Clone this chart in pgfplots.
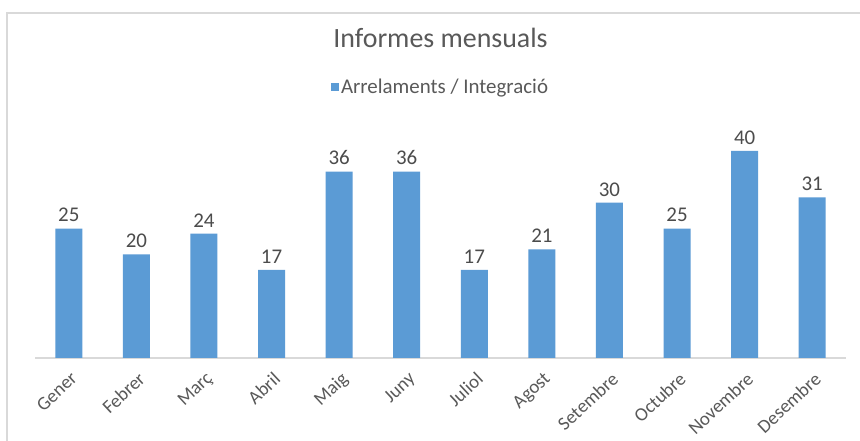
\documentclass[border=0pt]{standalone}
\usepackage{pgfplots}
\pgfplotsset{compat=1.18}
\usepackage{fontspec}
\setmainfont{Carlito}

\definecolor{barblue}{HTML}{5B9BD5}
\definecolor{txtgray}{HTML}{595959}
\definecolor{linegray}{HTML}{D9D9D9}

\begin{document}
\begin{tikzpicture}
\useasboundingbox[fill=white] (0,0) rectangle (860bp,441bp);
\draw[linegray, line width=1.5bp] (7bp,-20bp) -- (7bp,428bp) -- (880bp,428bp);
\begin{axis}[
  at={(35bp,83bp)}, anchor=south west,
  scale only axis, width=811bp, height=233bp,
  ybar, bar width=27bp,
  xmin=-0.5, xmax=11.5, ymin=0, ymax=45,
  axis x line*=bottom, axis y line=none,
  x axis line style={-, draw=linegray, line width=1.2bp},
  xtick=data, major tick length=0pt,
  xticklabels={Gener,Febrer,Març,Abril,Maig,Juny,Juliol,Agost,Setembre,Octubre,Novembre,Desembre},
  xticklabel style={rotate=43, anchor=north east, text=txtgray,
    font=\fontsize{19}{21}\selectfont, inner sep=0pt, yshift=-10bp, xshift=-8bp},
  ytick=\empty,
  /pgf/number format/assume math mode=true,
  nodes near coords,
  every node near coord/.append style={text=txtgray!85!black,
    font=\fontsize{21}{23}\selectfont, yshift=3bp},
  title={Informes mensuals},
  title style={at={(0.5,1)}, anchor=center, yshift=81bp, text=txtgray,
    font=\fontsize{28}{32}\selectfont},
  legend style={at={(0.5,1)}, anchor=center, yshift=38bp, draw=none,
    font=\fontsize{21}{24}\selectfont, text=txtgray, fill=none,
    inner sep=0pt},
  legend image code/.code={\fill[barblue] (0bp,-4bp) rectangle (8bp,4bp);},
]
\addplot[fill=barblue, draw=none] coordinates {
  (0,25) (1,20) (2,24) (3,17) (4,36) (5,36)
  (6,17) (7,21) (8,30) (9,25) (10,40) (11,31)
};
\addlegendentry{Arrelaments / Integració}
\end{axis}
\end{tikzpicture}
\end{document}
